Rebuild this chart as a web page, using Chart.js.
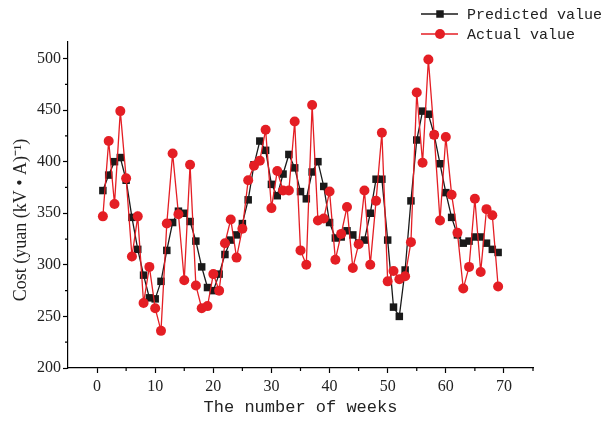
<!DOCTYPE html>
<html>
<head>
<meta charset="utf-8">
<script src="https://cdn.jsdelivr.net/npm/chart.js@4.4.1/dist/chart.umd.min.js"></script>
<style>
  html, body { margin: 0; padding: 0; background: #fff; }
  #wrap { width: 613px; height: 424px; }
</style>
</head>
<body>
<div id="wrap"><canvas id="chart" width="613" height="424"></canvas></div>
<script>
// weeks on the x axis
const weeks = [1, 2, 3, 4, 5, 6, 7, 8, 9, 10, 11, 12, 13, 14, 15, 16, 17, 18, 19, 20,
  21, 22, 23, 24, 25, 26, 27, 28, 29, 30, 31, 32, 33, 34, 35, 36, 37, 38, 39, 40,
  41, 42, 43, 44, 45, 46, 47, 48, 49, 50, 51, 52, 53, 54, 55, 56, 57, 58, 59, 60,
  61, 62, 63, 64, 65, 66, 67, 68, 69];

const predicted = [372, 387, 400, 404, 382, 346, 315, 290, 268, 267, 284, 314, 341, 352, 350, 342, 323, 298, 278, 275,
  291, 310, 324, 329, 340, 363, 397, 420, 411, 378, 367, 388, 407, 394, 371, 364, 390, 400, 376, 341,
  326, 327, 333, 329, 321, 324, 350, 383, 383, 324, 259, 250, 295, 362, 421, 449, 446, 426, 398, 370,
  346, 329, 321, 323, 327, 327, 321, 315, 312];

const actual = [347, 420, 359, 449, 384, 308, 347, 263, 298, 258, 236, 340, 408, 349, 285, 397, 280, 258, 260, 291,
  275, 321, 344, 307, 335, 382, 396, 401, 431, 355, 391, 372, 372, 439, 314, 300, 455, 343, 345, 371,
  305, 330, 356, 297, 320, 372, 300, 362, 428, 284, 294, 286, 289, 322, 467, 399, 499, 426, 343, 424,
  368, 331, 277, 298, 364, 293, 354, 348, 279];

const xTicks = [0, 10, 20, 30, 40, 50, 60, 70];
const xMinorTicks = [5, 15, 25, 35, 45, 55, 65, 75];
const yTicks = [200, 250, 300, 350, 400, 450, 500];
const yMinorTicks = [225, 275, 325, 375, 425, 475];

const RED = 'rgb(228, 30, 36)';
const BLACK = 'rgb(26, 26, 26)';

// short outward ticks between the labelled ones
const minorTicks = {
  id: 'minorTicks',
  afterDraw(chart) {
    const ctx = chart.ctx;
    const xs = chart.scales.x, ys = chart.scales.y;
    ctx.save();
    ctx.strokeStyle = '#000';
    ctx.lineWidth = 1.2;
    ctx.beginPath();
    xMinorTicks.forEach(v => {
      const px = xs.getPixelForValue(v);
      ctx.moveTo(px, xs.top);
      ctx.lineTo(px, xs.top + 3);
    });
    yMinorTicks.forEach(v => {
      const py = ys.getPixelForValue(v);
      ctx.moveTo(ys.right, py);
      ctx.lineTo(ys.right - 3, py);
    });
    ctx.stroke();
    ctx.restore();
  }
};

// legend in the top-right corner, line with marker in the middle
const cornerLegend = {
  id: 'cornerLegend',
  afterDraw(chart) {
    const ctx = chart.ctx;
    const rows = [chart.data.datasets[1], chart.data.datasets[0]];
    ctx.save();
    rows.forEach((ds, i) => {
      const y = 14 + i * 20;
      ctx.strokeStyle = ds.borderColor;
      ctx.lineWidth = 1.5;
      ctx.beginPath();
      ctx.moveTo(421, y);
      ctx.lineTo(458, y);
      ctx.stroke();
      ctx.fillStyle = ds.pointBackgroundColor;
      Chart.helpers.drawPoint(ctx, {
        pointStyle: ds.pointStyle,
        radius: ds.pointRadius,
        borderWidth: 0
      }, 440, y);
      ctx.fillStyle = '#222';
      ctx.font = '15px "Liberation Mono", monospace';
      ctx.textBaseline = 'middle';
      ctx.textAlign = 'left';
      ctx.fillText(ds.label, 467, y + 1);
    });
    ctx.restore();
  }
};

// rotated y axis title
const yTitle = {
  id: 'yTitle',
  afterDraw(chart) {
    const ctx = chart.ctx;
    ctx.save();
    ctx.translate(21, 220);
    ctx.rotate(-Math.PI / 2);
    ctx.fillStyle = '#222';
    ctx.font = '18px "Liberation Serif", serif';
    ctx.textAlign = 'center';
    ctx.textBaseline = 'middle';
    ctx.fillText('Cost (yuan (kV \u2022 A)\u207B\u00B9)', 0, 0);
    ctx.restore();
  }
};

const ctx = document.getElementById('chart').getContext('2d');

new Chart(ctx, {
  type: 'line',
  data: {
    datasets: [
      {
        label: 'Actual value',
        data: weeks.map((w, i) => ({ x: w, y: actual[i] })),
        borderColor: RED,
        backgroundColor: RED,
        pointBackgroundColor: RED,
        pointBorderColor: RED,
        pointBorderWidth: 0,
        pointStyle: 'circle',
        pointRadius: 5,
        borderWidth: 1.3,
        tension: 0,
        order: 0
      },
      {
        label: 'Predicted value',
        data: weeks.map((w, i) => ({ x: w, y: predicted[i] })),
        borderColor: BLACK,
        backgroundColor: BLACK,
        pointBackgroundColor: BLACK,
        pointBorderColor: BLACK,
        pointBorderWidth: 0,
        pointStyle: 'rect',
        pointRadius: 5.3,
        borderWidth: 1.3,
        tension: 0,
        order: 1
      }
    ]
  },
  options: {
    responsive: false,
    animation: false,
    devicePixelRatio: 1,
    layout: { padding: { left: 0, top: 42, right: 80, bottom: 0 } },
    plugins: {
      legend: { display: false },
      tooltip: { enabled: false }
    },
    scales: {
      x: {
        type: 'linear',
        min: -5,
        max: 75,
        afterBuildTicks: s => { s.ticks = xTicks.map(v => ({ value: v })); },
        afterFit: s => { s.height = 56; },
        border: { display: true, color: '#000', width: 1.2 },
        grid: { drawOnChartArea: false, drawTicks: true, tickLength: 5, tickColor: '#000', tickWidth: 1.2 },
        ticks: {
          color: '#222',
          padding: 4,
          maxRotation: 0,
          font: { family: '"Liberation Serif", serif', size: 16 }
        },
        title: {
          display: true,
          text: 'The number of weeks',
          color: '#222',
          padding: { top: 0, bottom: 6 },
          font: { family: '"Liberation Mono", monospace', size: 17 }
        }
      },
      y: {
        type: 'linear',
        min: 200,
        max: 516,
        afterBuildTicks: s => { s.ticks = yTicks.map(v => ({ value: v })); },
        afterFit: s => { s.width = 68; },
        border: { display: true, color: '#000', width: 1.2 },
        grid: { drawOnChartArea: false, drawTicks: true, tickLength: 5, tickColor: '#000', tickWidth: 1.2 },
        ticks: {
          color: '#222',
          padding: 2,
          font: { family: '"Liberation Serif", serif', size: 16 }
        }
      }
    }
  },
  plugins: [minorTicks, cornerLegend, yTitle]
});
</script>
</body>
</html>
